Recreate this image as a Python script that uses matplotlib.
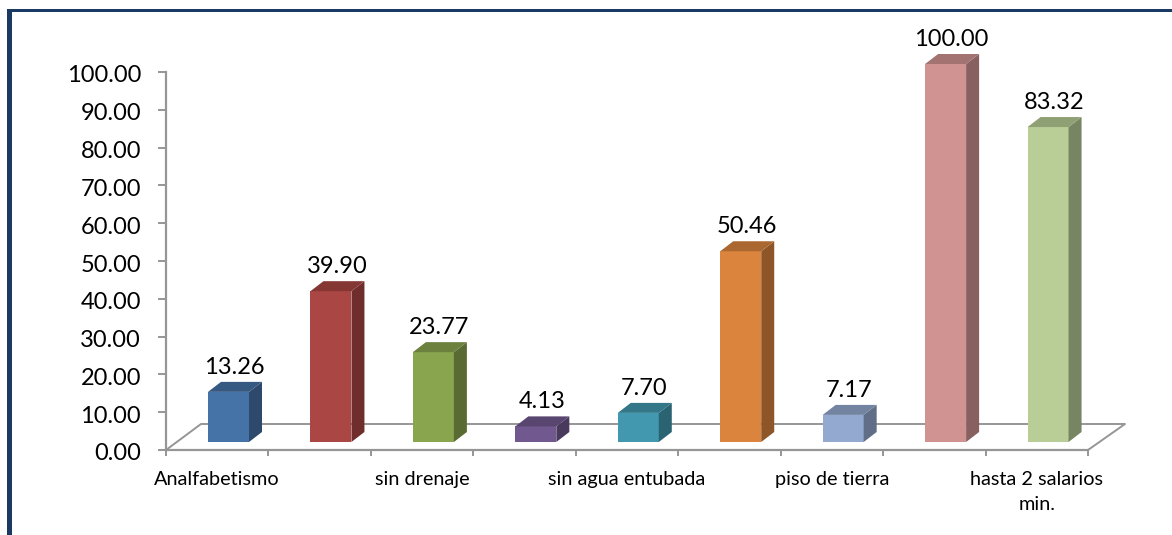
# Import libraries
import matplotlib
matplotlib.use('Agg')
import matplotlib.pyplot as plt
from matplotlib.patches import Polygon, Rectangle
from matplotlib.transforms import ScaledTranslation

plt.rcParams['font.family'] = ['Lato', 'DejaVu Sans']

categories = ['Analfabetismo', '', 'sin drenaje', '', 'sin agua entubada', '',
              'piso de tierra', '', 'hasta 2 salarios\nmin.']
values = [13.26, 39.90, 23.77, 4.13, 7.70, 50.46, 7.17, 100.00, 83.32]
front_colors = ['#4572a7', '#aa4643', '#89a54e', '#71588f', '#4198af',
                '#db843d', '#93a9cf', '#d19392', '#b9cd96']
y_ticks = [0, 10, 20, 30, 40, 50, 60, 70, 80, 90, 100]

W, H = 1172, 535
LEFT, RIGHT, BOTTOM, TOP = 166, 1088, 450, 72
GREY = '#969696'
NAVY = '#1b3a63'

fig = plt.figure(figsize=(W / 100, H / 100), dpi=100, facecolor='white')
ax = fig.add_axes([LEFT / W, 1 - BOTTOM / H, (RIGHT - LEFT) / W, (BOTTOM - TOP) / H])
ax.set_xlim(0, len(categories))
ax.set_ylim(0, 100)
ax.patch.set_visible(False)

# pixel sizes converted to data units
px_x = len(categories) / (RIGHT - LEFT)
px_y = 100 / (BOTTOM - TOP)


def shade(color, factor):
    rgb = matplotlib.colors.to_rgb(color)
    return tuple(c * factor for c in rgb)


# floor of the 3d box
floor_x = [0, 35 * px_x, len(categories) + 37 * px_x, len(categories)]
floor_y = [0, 26 * px_y, 26 * px_y, 0]
ax.plot(floor_x, floor_y, color=GREY, lw=1.4, clip_on=False, zorder=1)

# bars: front, side and top faces
bar_w = 41 * px_x
dx = 13 * px_x
dy = 10 * px_y
base = 8 * px_y
for i, (v, c) in enumerate(zip(values, front_colors)):
    x0 = i + 42 * px_x
    x1 = x0 + bar_w
    top = base + v
    ax.bar(x0, v, width=bar_w, bottom=base, align='edge', color=c, zorder=3, clip_on=False)
    ax.add_patch(Polygon([(x1, base), (x1 + dx, base + dy), (x1 + dx, top + dy), (x1, top)],
                         facecolor=shade(c, 0.65), edgecolor='none', zorder=3, clip_on=False))
    ax.add_patch(Polygon([(x0, top), (x0 + dx, top + dy), (x1 + dx, top + dy), (x1, top)],
                         facecolor=shade(c, 0.78), edgecolor='none', zorder=3, clip_on=False))
    ax.text((x0 + x1 + dx) / 2 - 0.5 * px_x, top + dy + 3.9, f'{v:.2f}', ha='center', va='center',
            fontsize=17, color='black', clip_on=False)

# axes
for side in ['top', 'right']:
    ax.spines[side].set_visible(False)
for side in ['left', 'bottom']:
    ax.spines[side].set_color(GREY)
    ax.spines[side].set_linewidth(1.6)
    ax.spines[side].set_zorder(2)
ax.set_yticks(y_ticks)
ax.set_yticklabels([f'{t:.2f}' for t in y_ticks])
ax.tick_params(axis='y', length=6, width=1.4, color=GREY, labelsize=17, pad=12)
shift = ScaledTranslation(0, -2 / 100, fig.dpi_scale_trans)
for label in ax.get_yticklabels():
    label.set_transform(label.get_transform() + shift)
ax.set_xticks(range(len(categories) + 1))
ax.set_xticklabels([])
ax.tick_params(axis='x', which='major', length=4, width=1.4, color=GREY)
ax.set_xticks([i + 0.5 for i in range(len(categories))], minor=True)
ax.set_xticklabels(categories, minor=True, fontsize=14.3, linespacing=1.55)
ax.tick_params(axis='x', which='minor', length=0, pad=15)

# navy frame on left and top edges
fig.add_artist(Rectangle((7 / W, 0), 5 / W, 1 - 9 / H, transform=fig.transFigure,
                         facecolor=NAVY, edgecolor='none'))
fig.add_artist(Rectangle((7 / W, 1 - 12 / H), 1 - 7 / W, 3 / H, transform=fig.transFigure,
                         facecolor=NAVY, edgecolor='none'))

fig.savefig('out.png', dpi=100)
